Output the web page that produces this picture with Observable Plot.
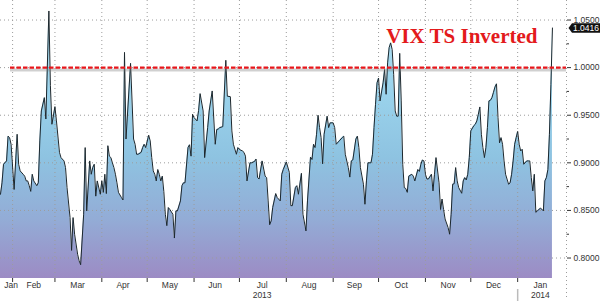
<!DOCTYPE html>
<html><head><meta charset="utf-8">
<script src="https://cdn.jsdelivr.net/npm/d3@7"></script>
<script src="https://cdn.jsdelivr.net/npm/@observablehq/plot@0.6"></script>
<style>html,body{margin:0;padding:0;background:#fff;overflow:hidden}</style>
</head><body><div id="chart"></div>
<script>
// ---- data ----
const dates = [
"2013-01-24","2013-01-25","2013-01-26","2013-01-28","2013-01-29","2013-01-30","2013-01-31",
"2013-02-02","2013-02-04","2013-02-05","2013-02-06","2013-02-08","2013-02-09","2013-02-10","2013-02-11","2013-02-12","2013-02-13","2013-02-14","2013-02-15","2013-02-17","2013-02-18","2013-02-19","2013-02-20","2013-02-22","2013-02-23","2013-02-25","2013-02-26","2013-02-27",
"2013-03-01","2013-03-02","2013-03-04","2013-03-05","2013-03-07","2013-03-08","2013-03-09","2013-03-11","2013-03-12","2013-03-13","2013-03-14","2013-03-16","2013-03-17","2013-03-18","2013-03-20","2013-03-21","2013-03-22","2013-03-24","2013-03-25","2013-03-26","2013-03-27","2013-03-28","2013-03-29","2013-03-31",
"2013-04-01","2013-04-02","2013-04-03","2013-04-04","2013-04-05","2013-04-06","2013-04-07","2013-04-08","2013-04-09","2013-04-10","2013-04-11","2013-04-12","2013-04-14","2013-04-15","2013-04-16","2013-04-17","2013-04-20","2013-04-22","2013-04-23","2013-04-24","2013-04-25","2013-04-27","2013-04-28","2013-04-29","2013-04-30",
"2013-05-02","2013-05-03","2013-05-04","2013-05-05","2013-05-06","2013-05-07","2013-05-08","2013-05-09","2013-05-10","2013-05-11","2013-05-12","2013-05-13","2013-05-14","2013-05-15","2013-05-16","2013-05-18","2013-05-19","2013-05-20","2013-05-21","2013-05-23","2013-05-24","2013-05-25","2013-05-26","2013-05-28","2013-05-29","2013-05-30","2013-05-31",
"2013-06-01","2013-06-03","2013-06-04","2013-06-05","2013-06-07","2013-06-08","2013-06-10","2013-06-11","2013-06-13","2013-06-15","2013-06-16","2013-06-17","2013-06-18","2013-06-20","2013-06-22","2013-06-23","2013-06-25","2013-06-26","2013-06-27","2013-06-29","2013-06-30",
"2013-07-01","2013-07-03","2013-07-04","2013-07-05","2013-07-06","2013-07-08","2013-07-09","2013-07-11","2013-07-12","2013-07-13","2013-07-14","2013-07-16","2013-07-18","2013-07-19","2013-07-20","2013-07-21","2013-07-22","2013-07-23","2013-07-25","2013-07-26","2013-07-28","2013-07-29","2013-07-30",
"2013-08-01","2013-08-03","2013-08-04","2013-08-05","2013-08-07","2013-08-08","2013-08-09","2013-08-11","2013-08-12","2013-08-14","2013-08-15","2013-08-17","2013-08-18","2013-08-19","2013-08-20","2013-08-21","2013-08-22","2013-08-23","2013-08-24","2013-08-25","2013-08-26","2013-08-28","2013-08-29","2013-08-30",
"2013-09-01","2013-09-02","2013-09-03","2013-09-05","2013-09-07","2013-09-08","2013-09-09","2013-09-11","2013-09-12","2013-09-13","2013-09-14","2013-09-16","2013-09-17","2013-09-18","2013-09-19","2013-09-21","2013-09-22","2013-09-23","2013-09-24","2013-09-26","2013-09-27","2013-09-28","2013-09-29","2013-09-30",
"2013-10-01","2013-10-02","2013-10-04","2013-10-05","2013-10-06","2013-10-07","2013-10-08","2013-10-09","2013-10-10","2013-10-11","2013-10-12","2013-10-13","2013-10-14","2013-10-15","2013-10-16","2013-10-17","2013-10-18","2013-10-19","2013-10-20","2013-10-21","2013-10-23","2013-10-24","2013-10-25","2013-10-27","2013-10-28","2013-10-29","2013-10-30","2013-10-31",
"2013-11-01","2013-11-02","2013-11-03","2013-11-05","2013-11-06","2013-11-07","2013-11-08","2013-11-10","2013-11-11","2013-11-12","2013-11-13","2013-11-14","2013-11-16","2013-11-17","2013-11-18","2013-11-19","2013-11-20","2013-11-21","2013-11-22","2013-11-23","2013-11-25","2013-11-26","2013-11-27","2013-11-28","2013-11-29","2013-11-30",
"2013-12-01","2013-12-03","2013-12-04","2013-12-05","2013-12-06","2013-12-07","2013-12-08","2013-12-09","2013-12-10","2013-12-11","2013-12-12","2013-12-13","2013-12-14","2013-12-15","2013-12-16","2013-12-17","2013-12-18","2013-12-19","2013-12-20","2013-12-21","2013-12-22","2013-12-23","2013-12-24","2013-12-26","2013-12-27","2013-12-28","2013-12-29","2013-12-30","2013-12-31",
"2014-01-01","2014-01-02","2014-01-03","2014-01-04","2014-01-05","2014-01-07","2014-01-08","2014-01-09","2014-01-10","2014-01-11","2014-01-12","2014-01-13","2014-01-14","2014-01-16","2014-01-17","2014-01-18","2014-01-19","2014-01-20","2014-01-21","2014-01-22","2014-01-23","2014-01-24"
];
const values = [
0.867,0.879,0.8985,0.902,0.928,0.9265,0.9195,
0.872,0.930,0.8985,0.8915,0.888,0.886,0.881,0.881,0.876,0.870,0.888,0.881,0.876,0.879,0.923,0.9545,0.9685,0.946,1.0595,0.981,0.9405,
0.959,0.944,0.911,0.9055,0.902,0.895,0.874,0.8425,0.808,0.8425,0.825,0.804,0.797,0.793,0.846,0.916,0.8495,0.902,0.888,0.895,0.8985,0.865,0.881,0.867,
0.881,0.869,0.888,0.8677,0.918,0.907,0.9055,0.900,0.895,0.888,0.879,0.869,0.8635,0.861,1.016,0.925,1.0045,0.925,0.9195,0.909,0.909,0.911,0.916,0.9195,0.916,
0.929,0.923,0.9055,0.8915,0.888,0.881,0.893,0.888,0.881,0.886,0.870,0.846,0.834,0.853,0.851,0.846,0.821,0.8495,0.8495,0.860,0.876,0.879,0.879,0.916,0.919,0.907,0.951,
0.9475,0.944,0.955,0.9727,0.9545,0.9055,0.937,0.9545,0.9755,0.9195,0.935,0.9355,0.937,0.938,1.0077,0.970,0.9695,0.9335,0.9195,0.909,0.916,
0.914,0.9125,0.911,0.907,0.881,0.900,0.900,0.9015,0.904,0.8845,0.883,0.902,0.886,0.8845,0.860,0.835,0.839,0.853,0.8677,0.8635,0.860,0.888,0.893,
0.901,0.890,0.855,0.855,0.874,0.876,0.867,0.889,0.846,0.8285,0.860,0.906,0.9035,0.9195,0.916,0.930,0.950,0.937,0.9265,0.899,0.930,0.949,0.937,0.942,
0.942,0.937,0.9195,0.923,0.9265,0.928,0.909,0.895,0.885,0.902,0.903,0.925,0.928,0.916,0.895,0.8775,0.8565,0.881,0.900,0.900,0.909,0.937,0.9615,0.984,
0.989,0.965,0.984,0.998,0.972,1.005,1.021,1.026,1.019,0.993,0.9545,0.949,0.949,1.015,0.965,0.8985,0.874,0.873,0.869,0.886,0.888,0.886,0.881,0.893,0.891,0.8985,0.903,0.902,
0.888,0.883,0.883,0.888,0.8705,0.888,0.9055,0.879,0.851,0.862,0.851,0.841,0.832,0.825,0.846,0.8775,0.878,0.895,0.881,0.874,0.868,0.881,0.8845,0.882,0.888,0.9055,
0.9335,0.939,0.9405,0.944,0.951,0.9587,0.930,0.916,0.9055,0.916,0.937,0.965,0.9657,0.9685,0.974,0.9797,0.983,0.9475,0.921,0.9265,0.9195,0.902,0.888,0.8775,0.879,0.888,0.902,0.9195,0.9265,
0.933,0.9195,0.9125,0.9142,0.8985,0.902,0.902,0.902,0.8845,0.8705,0.888,0.848,0.8495,0.8523,0.8513,0.8495,0.881,0.8845,0.893,0.930,0.9825,1.0416
];
const yTicks = [0.80, 0.85, 0.90, 0.95, 1.00, 1.05];
const yMinorTicks = [0.825, 0.875, 0.925, 0.975, 1.025];
const monthStarts = ["2013-02-01","2013-03-01","2013-04-01","2013-05-01","2013-06-01","2013-07-01","2013-08-01","2013-09-01","2013-10-01","2013-11-01","2013-12-01","2014-01-01"];
const monthLabels = ["Jan","Feb","Mar","Apr","May","Jun","Jul","Aug","Sep","Oct","Nov","Dec","Jan"];
const monthLabelDates = ["2013-01-31","2013-02-15","2013-03-16","2013-04-15","2013-05-16","2013-06-15","2013-07-16","2013-08-16","2013-09-15","2013-10-16","2013-11-16","2013-12-16","2014-01-16"];
const yearLabels = ["2013","2014"];
const yearLabelDates = ["2013-07-16","2014-01-16"];
const yearBreaks = ["2014-01-01"];
const threshold = [1.0];
const titleText = ["VIX TS Inverted"];
const xDomain = ["2013-01-24T00:00Z","2014-02-02T07:00Z"];
const yDomain = [0.7785, 1.0705];

// ---- build ----
const P = s => new Date(s.length === 10 ? s + "T00:00Z" : s);
const data = dates.map((d, i) => ({date: P(d), value: values[i]}));
const xDom = xDomain.map(P);
const xEnd = xDom[1];
const last = data[data.length - 1];

const minorTick = {draw(ctx) { ctx.moveTo(0, 0); ctx.lineTo(2.5, 0); }};
const labelBox = {draw(ctx) {
  ctx.moveTo(0, 0); ctx.lineTo(3.5, -4.8); ctx.lineTo(32, -4.8);
  ctx.lineTo(32, 4.8); ctx.lineTo(3.5, 4.8); ctx.closePath();
}};
const grid = "#9c9c9c";

const chart = Plot.plot({
  width: 600, height: 301,
  marginTop: 0, marginRight: 34, marginBottom: 23, marginLeft: 0,
  style: {fontFamily: "Liberation Sans, Arial, sans-serif", fontSize: "8.5px", color: "#333", background: "#fff"},
  x: {type: "utc", domain: xDom, ticks: monthStarts.map(P), tickFormat: () => "", tickSize: 4, label: null},
  y: {domain: yDomain, axis: "right", ticks: yTicks, tickFormat: d3.format(".4f"), tickSize: 4, tickPadding: 3, label: null},
  marks: [
    Plot.areaY(data, {x: "date", y1: yDomain[0], y2: "value", fill: "url(#vixGrad)"}),
    Plot.ruleY(yTicks, {stroke: grid, strokeDasharray: "1,3"}),
    Plot.ruleX(monthStarts.map(P), {stroke: grid, strokeDasharray: "1,3"}),
    Plot.ruleX([xEnd], {stroke: grid, strokeDasharray: "1,3", insetBottom: -19}),
    Plot.lineY(data, {x: "date", y: "value", stroke: "#1c272d", strokeWidth: 1}),
    Plot.ruleY(threshold, {stroke: "#777", strokeOpacity: 0.35, strokeWidth: 3, dy: 2.5, insetLeft: 10}),
    Plot.ruleY(threshold, {stroke: "#e8161b", strokeWidth: 2.2, strokeDasharray: "4.5,2", insetLeft: 10}),
    Plot.text(titleText, {text: d => d, frameAnchor: "top-right", textAnchor: "end", lineAnchor: "bottom",
      dx: -29, dy: 42, fontFamily: "Liberation Serif, Times New Roman, serif", fontWeight: "bold", fontSize: 21, fill: "#e31a1c"}),
    Plot.text(monthLabels, {x: (d, i) => P(monthLabelDates[i]), text: d => d, frameAnchor: "bottom", lineAnchor: "bottom", dy: 9.5, fill: "#333"}),
    Plot.text(yearLabels, {x: (d, i) => P(yearLabelDates[i]), text: d => d, frameAnchor: "bottom", lineAnchor: "bottom", dy: 19.5, fill: "#333"}),
    Plot.ruleX(yearBreaks.map(P), {stroke: "#bbb", strokeWidth: 1.5, insetTop: 289, insetBottom: -23}),
    Plot.dot(yMinorTicks, {x: () => xEnd, y: d => d, symbol: minorTick, stroke: "#333", fill: "none", strokeWidth: 1}),
    Plot.dot([last], {x: () => xEnd, y: "value", symbol: labelBox, fill: "#111", stroke: "none", dx: 2}),
    Plot.text([last], {x: () => xEnd, y: "value", text: d => d3.format(".4f")(d.value), fill: "#fff", dx: 19.5, dy: 0.5, fontSize: 8.5, textAnchor: "middle"})
  ]
});

const defs = d3.select(chart).insert("defs", ":first-child");
const grad = defs.append("linearGradient").attr("id", "vixGrad")
  .attr("x1", 0).attr("y1", 0).attr("x2", 0).attr("y2", 1);
[[0, "#b3e3f4"], [0.3, "#9ad3ec"], [0.55, "#8ec3e1"], [0.78, "#93acd6"], [1, "#9c8bc4"]]
  .forEach(([o, c]) => grad.append("stop").attr("offset", o).attr("stop-color", c));

document.getElementById("chart").appendChild(chart);
</script>
</body></html>
